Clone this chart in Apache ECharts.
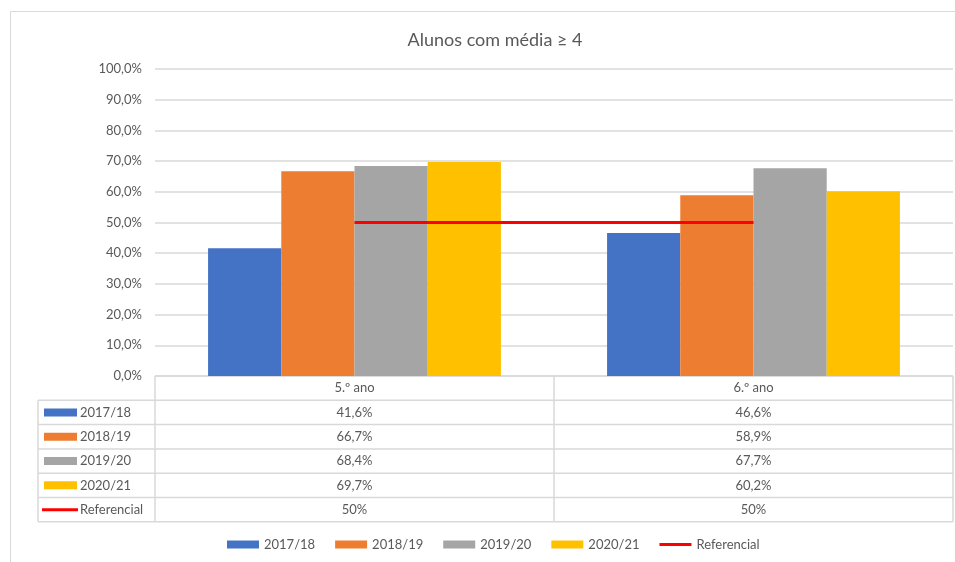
<!DOCTYPE html>
<html>
<head>
<meta charset="utf-8">
<script src="https://cdn.jsdelivr.net/npm/echarts@6/dist/echarts.min.js"></script>
<style>
  html, body { margin: 0; padding: 0; background: #fff; }
  #main { width: 955px; height: 562px; }
</style>
</head>
<body>
<div id="main"></div>
<script>
// dados do gráfico
var categorias = ['5.º ano', '6.º ano'];
var anos = ['2017/18', '2018/19', '2019/20', '2020/21'];
var valores = [
    [41.6, 46.6],
    [66.7, 58.9],
    [68.4, 67.7],
    [69.7, 60.2]
];
var referencial = [50, 50];
var cores = ['#4472C4', '#ED7D31', '#A5A5A5', '#FFC000'];
var corRef = '#FF0000';

var fonte = 'Lato, "DejaVu Sans", sans-serif';
var cinza = '#595959';
var linhaCor = '#D9D9D9';

// geometria da grelha e da tabela de dados
var gLeft = 155, gRight = 953, gTop = 69, gBottom = 376;
var tabLeft = 38, rowH = 24.3;

function pct(v) {
    return v.toFixed(1).replace('.', ',') + '%';
}

var chart = echarts.init(document.getElementById('main'));

// tabela de dados (desenhada à mão com graphic)
var graphics = [];
graphics.push({
    type: 'rect', silent: true,
    shape: { x: 10.5, y: 11.5, width: 1000, height: 600 },
    style: { fill: null, stroke: linhaCor, lineWidth: 1 }
});
var nRows = anos.length + 1;
var tabBottom = gBottom + rowH * (nRows + 1);
var colW = (gRight - gLeft) / categorias.length;
function hline(x1, x2, y) {
    graphics.push({ type: 'line', silent: true, shape: { x1: x1, y1: y, x2: x2, y2: y },
        style: { stroke: linhaCor, lineWidth: 1.5 } });
}
function vline(x, y1, y2) {
    graphics.push({ type: 'line', silent: true, shape: { x1: x, y1: y1, x2: x, y2: y2 },
        style: { stroke: linhaCor, lineWidth: 1.5 } });
}
hline(gLeft, gRight, gBottom);
for (var r = 1; r <= nRows + 1; r++) {
    hline(tabLeft, gRight, gBottom + rowH * r);
}
vline(tabLeft, gBottom + rowH, tabBottom);
for (var c = 0; c <= categorias.length; c++) {
    vline(gLeft + colW * c, gBottom, tabBottom);
}
function texto(x, y, s, align) {
    graphics.push({ type: 'text', silent: true, x: x, y: y,
        style: { text: s, fill: cinza, font: '13px ' + fonte, textAlign: align, textVerticalAlign: 'middle' } });
}
categorias.forEach(function (cat, j) {
    texto(gLeft + colW * (j + 0.5), gBottom + rowH / 2, cat, 'center');
});
var nomes = anos.concat(['Referencial']);
nomes.forEach(function (nome, i) {
    var yc = gBottom + rowH * (i + 1.5);
    if (i < anos.length) {
        graphics.push({ type: 'rect', silent: true,
            shape: { x: 44, y: yc - 4, width: 33, height: 8 }, style: { fill: cores[i] } });
        categorias.forEach(function (cat, j) {
            texto(gLeft + colW * (j + 0.5), yc, pct(valores[i][j]), 'center');
        });
    } else {
        graphics.push({ type: 'line', silent: true,
            shape: { x1: 42, y1: yc, x2: 78, y2: yc }, style: { stroke: corRef, lineWidth: 3 } });
        categorias.forEach(function (cat, j) {
            texto(gLeft + colW * (j + 0.5), yc, referencial[j] + '%', 'center');
        });
    }
    texto(80, yc, nome, 'left');
});

var series = anos.map(function (ano, i) {
    return {
        name: ano,
        type: 'bar',
        data: valores[i],
        itemStyle: { color: cores[i] },
        barGap: 0,
        barCategoryGap: '26.6%'
    };
});
series.push({
    name: 'Referencial',
    type: 'line',
    data: referencial,
    symbol: 'none',
    lineStyle: { color: corRef, width: 3 },
    itemStyle: { color: corRef },
    z: 5
});

chart.setOption({
    animation: false,
    title: {
        text: 'Alunos com média ≥ 4',
        left: 490,
        top: 26,
        textAlign: 'center',
        textStyle: { color: cinza, fontFamily: fonte, fontSize: 18, fontWeight: 'normal' }
    },
    legend: {
        bottom: 6,
        left: 222,
        itemWidth: 32,
        itemHeight: 8,
        itemGap: 20,
        symbolKeepAspect: true,
        textStyle: { color: cinza, fontFamily: fonte, fontSize: 13 },
        data: anos.map(function (a) { return { name: a, icon: 'rect' }; }).concat([
            { name: 'Referencial', icon: 'path://M0,0 L32,0 L32,3 L0,3 Z' }
        ])
    },
    grid: {
        left: gLeft,
        right: 955 - gRight,
        top: gTop,
        bottom: 562 - gBottom,
        containLabel: false
    },
    xAxis: {
        type: 'category',
        data: categorias,
        axisLine: { show: false },
        axisTick: { show: false },
        axisLabel: { show: false }
    },
    yAxis: {
        type: 'value',
        min: 0,
        max: 100,
        interval: 10,
        axisLine: { show: false },
        axisTick: { show: false },
        splitLine: { lineStyle: { color: linhaCor, width: 1.5 } },
        axisLabel: {
            color: cinza, fontFamily: fonte, fontSize: 13, margin: 13,
            formatter: function (v) { return pct(v); }
        }
    },
    graphic: graphics,
    series: series
});
</script>
</body>
</html>
